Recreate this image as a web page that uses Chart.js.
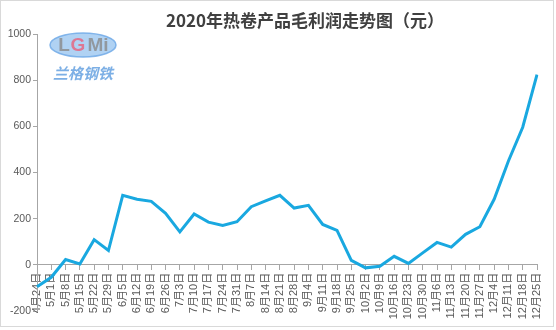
<!DOCTYPE html>
<html>
<head>
<meta charset="utf-8">
<script src="https://cdn.jsdelivr.net/npm/chart.js@4/dist/chart.umd.min.js"></script>
<style>
  body { margin: 0; background: #fff; }
</style>
</head>
<body>
<canvas id="myChart" width="556" height="330"></canvas>
<script>
// weekly dates, 4月24日 .. 12月25日
const labels = ['4月24日', '5月1日', '5月8日', '5月15日', '5月22日', '5月29日', '6月5日', '6月12日', '6月19日', '6月26日',
    '7月3日', '7月10日', '7月17日', '7月24日', '7月31日', '8月7日', '8月14日', '8月21日', '8月28日', '9月4日',
    '9月11日', '9月18日', '9月25日', '10月2日', '10月9日', '10月16日', '10月23日', '10月30日', '11月6日', '11月13日',
    '11月20日', '11月27日', '12月4日', '12月11日', '12月18日', '12月25日'];
const profit = [-95, -54, 23, 4, 109, 62, 301, 284, 275, 223,
    143, 220, 185, 171, 187, 252, 277, 301, 246, 258,
    175, 149, 19, -13, -6, 37, 6, 52, 97, 77,
    132, 165, 284, 450, 596, 824];
const yTicks = [-200, 0, 200, 400, 600, 800, 1000];

const titleText = '2020年热卷产品毛利润走势图（元）';
const axisGrey = '#a6a6a6';
const labelGrey = '#595959';

const decor = {
    id: 'decor',
    beforeDraw(chart) {
        const c = chart.ctx;
        c.save();
        // chart frame
        c.strokeStyle = '#d9d9d9';
        c.lineWidth = 1;
        c.strokeRect(0.5, 0.5, 553, 326);
        // watermark logo
        c.globalAlpha = 0.8;
        c.fillStyle = '#9cc7f0';
        c.beginPath();
        c.ellipse(83, 45, 33, 12, 0, 0, Math.PI * 2);
        c.fill();
        c.strokeStyle = '#6aa6e6';
        c.lineWidth = 1.5;
        c.stroke();
        c.font = 'bold 19px "Liberation Sans", sans-serif';
        c.textAlign = 'center';
        c.textBaseline = 'middle';
        c.fillStyle = '#8a8a8a';
        c.fillText('L', 64, 46);
        c.fillStyle = '#e8607a';
        c.fillText('G', 78, 46);
        c.fillStyle = '#8a8a8a';
        c.fillText('Mi', 98, 46);
        c.fillStyle = '#5b9bdf';
        c.font = 'italic bold 15px "Noto Sans CJK SC", sans-serif';
        c.fillText('兰格钢铁', 83, 73);
        c.restore();
    },
    afterDraw(chart) {
        const c = chart.ctx;
        c.save();
        c.font = 'bold 17px "Noto Sans CJK SC", sans-serif';
        c.fillStyle = '#404040';
        c.textAlign = 'center';
        c.textBaseline = 'middle';
        c.fillText(titleText, 305, 21);
        c.restore();
    }
};

const ctx = document.getElementById('myChart').getContext('2d');
const myChart = new Chart(ctx, {
    type: 'line',
    data: {
        labels: labels,
        datasets: [{
            data: profit,
            borderColor: '#19a8e0',
            borderWidth: 3,
            pointRadius: 0,
            tension: 0,
            fill: false
        }]
    },
    options: {
        responsive: false,
        animation: false,
        devicePixelRatio: 1,
        layout: { padding: { left: 0, right: 19, top: 34, bottom: 19 } },
        plugins: {
            legend: { display: false },
            title: { display: false },
            tooltip: { enabled: false }
        },
        scales: {
            x: {
                position: { y: 0 },
                offset: false,
                grid: { offset: false, drawOnChartArea: false, drawTicks: true, tickLength: 5, color: axisGrey },
                border: { display: true, color: axisGrey },
                ticks: {
                    autoSkip: false,
                    minRotation: 90,
                    maxRotation: 90,
                    padding: 3,
                    color: labelGrey,
                    font: { size: 11, family: '"Liberation Sans", "Noto Sans CJK SC", sans-serif' }
                }
            },
            y: {
                min: yTicks[0],
                max: yTicks[yTicks.length - 1],
                afterFit: s => { s.width = 37; },
                afterBuildTicks: s => { s.ticks = yTicks.map(v => ({ value: v })); },
                grid: { drawOnChartArea: false, drawTicks: true, tickLength: 4, color: axisGrey },
                border: { display: true, color: axisGrey },
                ticks: {
                    padding: 2,
                    color: labelGrey,
                    callback: v => String(v),
                    font: { size: 10.5, family: '"Liberation Sans", sans-serif' }
                }
            }
        }
    },
    plugins: [decor]
});
</script>
</body>
</html>
